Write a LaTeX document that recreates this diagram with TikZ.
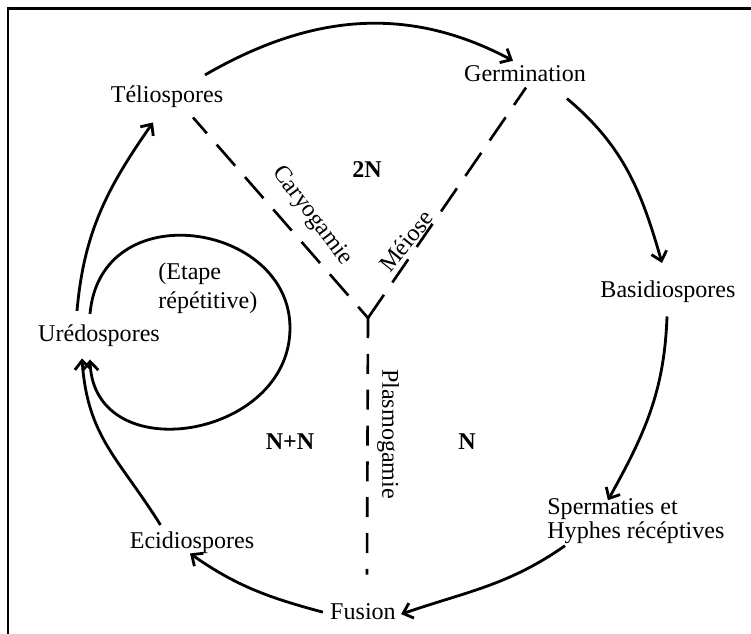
\documentclass[tikz,border=0pt]{standalone}
\usepackage{fontspec}
\setmainfont{Liberation Serif}
\usetikzlibrary{arrows.meta}

\begin{document}
\begin{tikzpicture}[x=0.02cm,y=0.02cm,
    stage/.style={inner sep=0pt,font=\fontsize{13.7}{16}\selectfont},
    ploidy/.style={inner sep=0pt,font=\fontsize{13.7}{16}\selectfont\bfseries},
    cycle/.style={line width=1.6pt,-{Straight Barb[length=5pt,width=9pt]}},
    phase/.style={line width=1.5pt,dash pattern=on 16pt off 8.5pt},
    phasev/.style={line width=1.5pt,dash pattern=on 11.4pt off 9pt}]
  \useasboundingbox (0,0) rectangle (751,633);
  \draw[line width=1.6pt] (8,-20) rectangle (780,624.5);

  % stages of the cycle
  \node[stage,anchor=base] (telio) at (167,530) {Téliospores};
  \node[stage,anchor=base] (germ) at (525,551) {Germination};
  \node[stage,anchor=base] (basid) at (668,335) {Basidiospores};
  \node[stage,anchor=west,align=left,font=\fontsize{13.7}{12}\selectfont]
    (sperm) at (547,112) {Spermaties et\\Hyphes récéptives};
  \node[stage,anchor=base] (fusion) at (363,14) {Fusion};
  \node[stage,anchor=base] (ecid) at (192,85) {Ecidiospores};
  \node[stage,anchor=base] (ured) at (99,291) {Urédospores};
  \node[stage,anchor=west,align=left,font=\fontsize{13.7}{16.5}\selectfont]
    (etape) at (158,345) {(Etape\\répétitive)};

  % ploidy of each phase
  \node[ploidy,anchor=base] (diplo) at (367,455) {2N};
  \node[ploidy,anchor=base] (dikaryo) at (290,184) {N+N};
  \node[ploidy,anchor=base] (haplo) at (467,184) {N};

  % boundaries between phases
  \node[stage,rotate=-53] (caryo) at (312,417) {Caryogamie};
  \node[stage,rotate=51] (meiose) at (406,392) {Méiose};
  \node[stage,rotate=-90] (plasmo) at (388,199) {Plasmogamie};
  \coordinate (fork) at (368,315);
  \coordinate (loopturn) at (290,305);
  \draw[phase,dash phase=7.5pt] (fork) -- ([shift={(26,-9)}]telio.south);
  \draw[phase] (fork) -- ([shift={(1,-5)}]germ.south);
  \draw[phasev] (fork) -- ([shift={(4,28)}]fusion.north);

  % arrows of the cycle
  \draw[cycle] ([shift={(38,11)}]telio.north) to[out=30,in=152] ([shift={(-12,5)}]germ.north);
  \draw[cycle] ([shift={(42,-16)}]germ.south) to[out=-40,in=106] ([shift={(-6,18)}]basid.north);
  \draw[cycle] ([shift={(-1,-13)}]basid.south) to[out=-92,in=61] ([shift={(-28,-2)}]sperm.north);
  \draw[cycle] ([shift={(18,-2)}]sperm.south west) to[out=-145,in=19] ([shift={(5,-3)}]fusion.east);
  \draw[cycle] ([shift={(-7,-1)}]fusion.west) to[out=165,in=-35] ([shift={(-2,0)}]ecid.south);
  \draw[cycle] ([shift={(31,6)}]ecid.north west) to[out=122,in=-86,looseness=1.1] ([shift={(-17,-11)}]ured.south);
  \draw[cycle] ([shift={(-9,11)}]ured.north)
    to[out=85,in=90,out looseness=1.55,in looseness=1.35] (loopturn)
    to[out=-90,in=-88,looseness=1.4] ([shift={(-9,-12)}]ured.south);
  \draw[cycle] ([shift={(-22,14)}]ured.north) to[out=85,in=-125] ([shift={(-14,-14)}]telio.south);
\end{tikzpicture}
\end{document}
